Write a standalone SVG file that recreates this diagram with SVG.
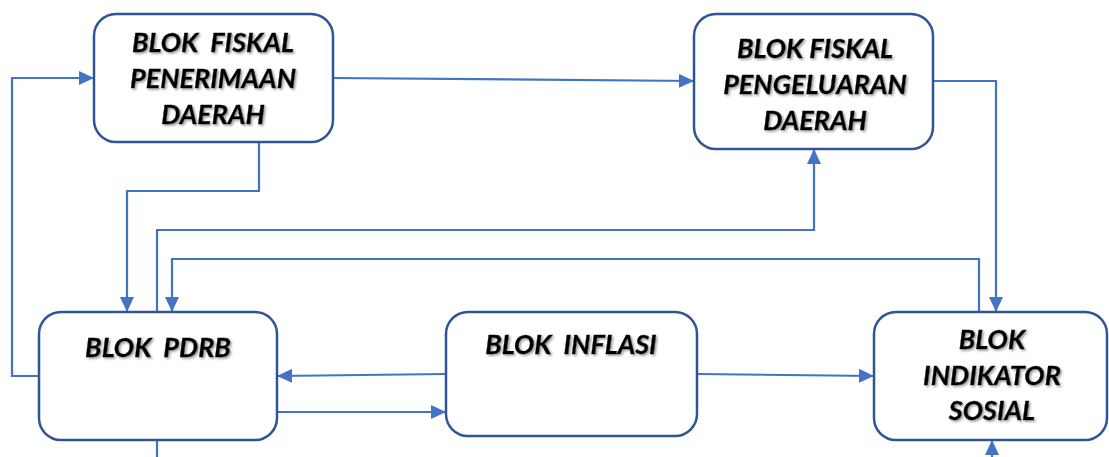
<svg xmlns="http://www.w3.org/2000/svg" width="1109" height="457" viewBox="0 0 1109 457">
<style>
.box{fill:#fff;stroke:#2F5597;stroke-width:2.5}
.lbl{font-family:Lato,"Liberation Sans",Arial,sans-serif;font-weight:bold;font-style:italic;font-size:27px;fill:#000;text-anchor:middle;filter:url(#sh);white-space:pre;stroke:#000;stroke-width:0.4}
.c{fill:none;stroke:#4472C4;stroke-width:2.2}
.ca{fill:none;stroke:#4472C4;stroke-width:2.2;marker-end:url(#ah)}
</style>
<defs>
<marker id="ah" markerWidth="15" markerHeight="14" refX="15" refY="7" orient="auto" markerUnits="userSpaceOnUse">
<path d="M0,0 L15,7 L0,14 Z" fill="#4472C4"/>
</marker>
<filter id="sh" x="-10%" y="-20%" width="130%" height="150%">
<feDropShadow dx="1.5" dy="1.5" stdDeviation="0.8" flood-color="#808080" flood-opacity="0.8"/>
</filter>
</defs>
<rect width="1109" height="457" fill="#fff"/>
<g id="connectors">
<path class="ca" d="M333,78 L694,81"/>
<path class="ca" d="M933,81 L996,81 L996,312"/>
<path class="ca" d="M259,142 L259,191 L127,191 L127,312"/>
<path class="ca" d="M157,312 L157,230 L814,230 L814,149"/>
<path class="ca" d="M979,312 L979,259 L172,259 L172,312"/>
<path class="ca" d="M39,376 L12,376 L12,78 L94,78"/>
<path class="ca" d="M446,374 L277,376"/>
<path class="ca" d="M277,412 L446,412"/>
<path class="ca" d="M697,374 L874,376"/>
<path class="c" d="M157,440 L157,457"/>
<path class="ca" d="M992,457 L992,440"/>
</g>
<g id="fiskal-penerimaan">
<rect class="box" x="94" y="14" width="239" height="128" rx="22"/>
<text class="lbl" x="213" y="52" xml:space="preserve">BLOK  FISKAL</text>
<text class="lbl" x="213" y="88">PENERIMAAN</text>
<text class="lbl" x="213" y="124">DAERAH</text>
</g>
<g id="fiskal-pengeluaran">
<rect class="box" x="694" y="14" width="239" height="135" rx="22"/>
<text class="lbl" x="815" y="58">BLOK FISKAL</text>
<text class="lbl" x="815" y="94">PENGELUARAN</text>
<text class="lbl" x="815" y="130">DAERAH</text>
</g>
<g id="pdrb">
<rect class="box" x="39" y="312" width="238" height="128" rx="22"/>
<text class="lbl" x="158" y="357" xml:space="preserve">BLOK  PDRB</text>
</g>
<g id="inflasi">
<rect class="box" x="446" y="312" width="251" height="124" rx="22"/>
<text class="lbl" x="571" y="354" xml:space="preserve">BLOK  INFLASI</text>
</g>
<g id="indikator-sosial">
<rect class="box" x="874" y="312" width="233" height="128" rx="22"/>
<text class="lbl" x="992" y="349">BLOK</text>
<text class="lbl" x="992" y="385">INDIKATOR</text>
<text class="lbl" x="992" y="420">SOSIAL</text>
</g>
</svg>
